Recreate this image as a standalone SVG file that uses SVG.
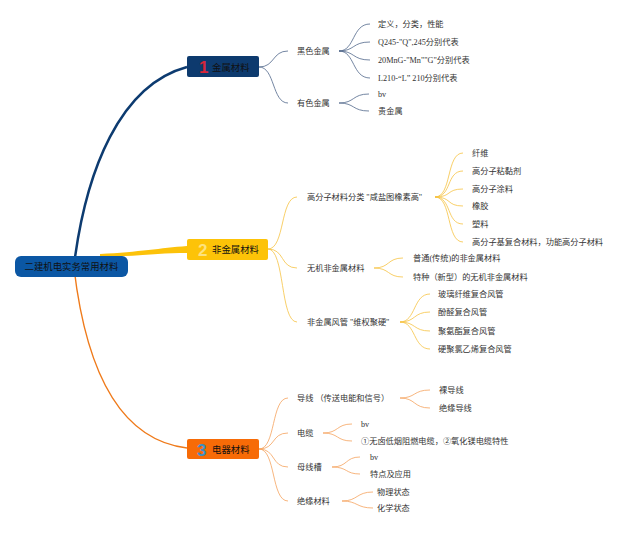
<svg xmlns="http://www.w3.org/2000/svg" width="640" height="533" viewBox="0 0 640 533">
<style>
.t{font-family:"Liberation Serif","Noto Sans CJK SC",sans-serif;font-size:8.2px;fill:#333}
.nt{font-family:"Liberation Sans","Noto Sans CJK SC",sans-serif;font-size:9.4px;fill:#111}
.num{font-family:"Liberation Sans","Noto Sans CJK SC",sans-serif;font-size:17px;font-weight:bold}
.l1{fill:none;stroke:#51678a;stroke-width:0.8}
.l2{fill:none;stroke:#f6c342;stroke-width:0.8}
.l3{fill:none;stroke:#f5a25d;stroke-width:0.8}
</style>
<rect width="640" height="533" fill="#fff"/>
<g id="connectors">
<path d="M74 265 C86 170,120 85,187 67" fill="none" stroke="#0d3b70" stroke-width="2.5"/>
<path d="M74 268 C86 370,120 440,187 448" fill="none" stroke="#ef7a1a" stroke-width="1.4"/>
<path d="M100 254 C140 252,160 248,187 246 L187 253 C160 253,140 256,100 257 Z" fill="#fcc20a"/>
<g class="l1">
<path d="M259 67 C275 67,272 51,288 51"/>
<path d="M259 67 C275 67,272 103,288 103"/>
<path d="M339 51 C355 51,352 24,370 24"/>
<path d="M339 51 C355 51,352 42,370 42"/>
<path d="M339 51 C355 51,352 60,370 60"/>
<path d="M339 51 C355 51,352 78,370 78"/>
<path d="M339 103 C355 103,352 94,369 94"/>
<path d="M339 103 C355 103,352 111,369 111"/>
</g>
<g class="l2">
<path d="M268 249 C285 249,280 197,297 197"/>
<path d="M268 249 C285 249,280 268,297 268"/>
<path d="M268 249 C285 249,280 322,297 322"/>
<path d="M435 197 C452 197,446 153,463 153"/>
<path d="M435 197 C452 197,446 171,463 171"/>
<path d="M435 197 C452 197,446 189,463 189"/>
<path d="M435 197 C452 197,446 206,463 206"/>
<path d="M435 197 C452 197,446 224,463 224"/>
<path d="M435 197 C452 197,446 242,463 242"/>
<path d="M374 268 C390 268,387 258,403 258"/>
<path d="M374 268 C390 268,387 277,403 277"/>
<path d="M400 322 C416 322,413 294,430 294"/>
<path d="M400 322 C416 322,413 312,430 312"/>
<path d="M400 322 C416 322,413 331,430 331"/>
<path d="M400 322 C416 322,413 349,430 349"/>
</g>
<g class="l3">
<path d="M259 449 C276 449,271 398,288 398"/>
<path d="M259 449 C276 449,271 433,288 433"/>
<path d="M259 449 C276 449,271 467,288 467"/>
<path d="M259 449 C276 449,271 501,288 501"/>
<path d="M400 398 C416 398,413 390,430 390"/>
<path d="M400 398 C416 398,413 408,430 408"/>
<path d="M323 433 C339 433,336 424,352 424"/>
<path d="M323 433 C339 433,336 441,352 441"/>
<path d="M332 467 C348 467,345 457,360 457"/>
<path d="M332 467 C348 467,345 474,360 474"/>
<path d="M342 501 C358 501,356 492,373 492"/>
<path d="M342 501 C358 501,356 508,373 508"/>
</g>
</g>
<g id="root">
<rect x="15" y="256" width="113" height="21" rx="6" fill="#0b57a4"/>
<text class="nt" x="71.5" y="270" text-anchor="middle">二建机电实务常用材料</text>
</g>
<g id="n1">
<rect x="187" y="56" width="72" height="21" rx="2" fill="#0d3a6e"/>
<text class="num" x="199" y="73" fill="#d8263a">1</text>
<text class="nt" x="212" y="70.5">金属材料</text>
</g>
<g id="n2">
<rect x="187" y="239" width="81" height="21" rx="2" fill="#fdc308"/>
<text class="num" x="198" y="256" fill="#fde27e">2</text>
<text class="nt" x="212" y="253">非金属材料</text>
</g>
<g id="n3">
<rect x="187" y="439" width="72" height="20" rx="2" fill="#f76b07"/>
<text class="num" x="197" y="456" fill="#3f8fc4">3</text>
<text class="nt" x="212" y="452.5">电器材料</text>
</g>
<g id="n1-children">
<text class="t" x="297" y="54">黑色金属</text>
<text class="t" x="297" y="106">有色金属</text>
<text class="t" x="378" y="27">定义，分类，性能</text>
<text class="t" x="378" y="45">Q245-"Q",245分别代表</text>
<text class="t" x="378" y="63">20MnG-"Mn""G"分别代表</text>
<text class="t" x="378" y="81">L210-“L” 210分别代表</text>
<text class="t" x="378" y="97">bv</text>
<text class="t" x="378" y="114">贵金属</text>
</g>
<g id="n2-children">
<text class="t" x="307" y="200">高分子材料分类 "咸盐图橡素高"</text>
<text class="t" x="307" y="271">无机非金属材料</text>
<text class="t" x="307" y="325">非金属风管 "维权聚硬"</text>
<text class="t" x="472" y="156">纤维</text>
<text class="t" x="472" y="174">高分子粘黏剂</text>
<text class="t" x="472" y="192">高分子涂料</text>
<text class="t" x="472" y="209">橡胶</text>
<text class="t" x="472" y="227">塑料</text>
<text class="t" x="472" y="245">高分子基复合材料，功能高分子材料</text>
<text class="t" x="413" y="261">普通(传统)的非金属材料</text>
<text class="t" x="413" y="280">特种（新型）的无机非金属材料</text>
<text class="t" x="438" y="297">玻璃纤维复合风管</text>
<text class="t" x="438" y="315">酚醛复合风管</text>
<text class="t" x="438" y="334">聚氨酯复合风管</text>
<text class="t" x="438" y="352">硬聚氯乙烯复合风管</text>
</g>
<g id="n3-children">
<text class="t" x="297" y="401">导线 （传送电能和信号）</text>
<text class="t" x="297" y="436">电缆</text>
<text class="t" x="297" y="470">母线槽</text>
<text class="t" x="297" y="504">绝缘材料</text>
<text class="t" x="439" y="393">裸导线</text>
<text class="t" x="439" y="411">绝缘导线</text>
<text class="t" x="361" y="427">bv</text>
<text class="t" x="361" y="444">①无卤低烟阻燃电缆，②氧化镁电缆特性</text>
<text class="t" x="370" y="460">bv</text>
<text class="t" x="370" y="477">特点及应用</text>
<text class="t" x="377" y="495">物理状态</text>
<text class="t" x="377" y="511">化学状态</text>
</g>
</svg>
